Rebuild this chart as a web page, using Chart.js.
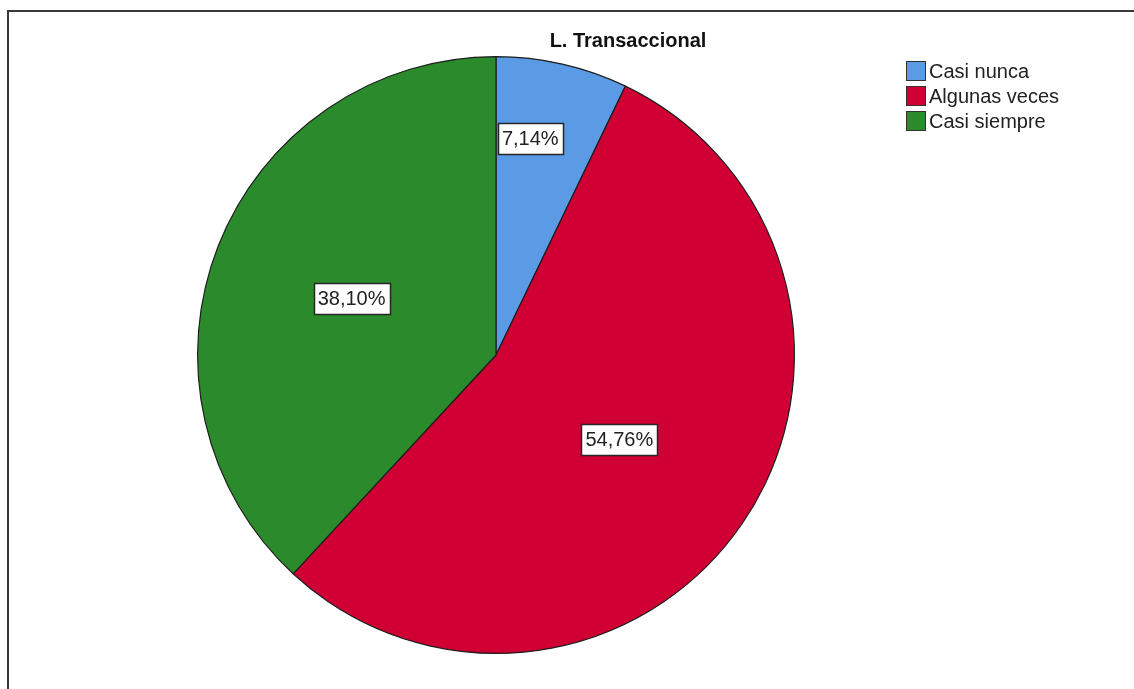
<!DOCTYPE html>
<html>
<head>
<meta charset="utf-8">
<script src="https://cdn.jsdelivr.net/npm/chart.js@4/dist/chart.umd.min.js"></script>
<style>
  html, body { margin: 0; padding: 0; background: #fff; }
  #wrap { position: relative; width: 1134px; height: 689px; overflow: hidden; }
  #frame { position: absolute; left: 7px; top: 10px; width: 1200px; height: 760px;
           border-top: 2px solid #3a3a3a; border-left: 2px solid #3a3a3a; box-sizing: border-box; }
  canvas { position: absolute; left: 0; top: 0; }
</style>
</head>
<body>
<div id="wrap">
  <div id="frame"></div>
  <canvas id="c" width="1134" height="689"></canvas>
</div>
<script>
// Categories and their shares (%)
const categories = ['Casi nunca', 'Algunas veces', 'Casi siempre'];
const percentages = [7.14, 54.76, 38.10];
const sliceColors = ['#5b9be6', '#d10034', '#2b8a2b'];
const chartTitle = 'L. Transaccional';

const FONT = '"Liberation Sans", Arial, sans-serif';

function fmt(v) {
  return v.toFixed(2).replace('.', ',') + '%';
}

// Title, boxed value labels and the legend, painted on top of the pie
const decorations = {
  id: 'decorations',
  afterDatasetsDraw(chart, args, opts) {
    const ctx = chart.ctx;
    const meta = chart.getDatasetMeta(0);
    ctx.save();

    // boxed percentage labels
    ctx.font = '20px ' + FONT;
    ctx.textAlign = 'center';
    ctx.textBaseline = 'middle';
    meta.data.forEach((arc, i) => {
      const p = arc.getProps(['x', 'y', 'startAngle', 'endAngle', 'outerRadius'], true);
      const ang = p.startAngle + (p.endAngle - p.startAngle) * opts.labelSpan[i];
      const r = p.outerRadius * opts.labelRadius[i];
      const x = p.x + Math.cos(ang) * r;
      const y = p.y + Math.sin(ang) * r;
      const text = fmt(chart.data.datasets[0].data[i]);
      const w = Math.round(ctx.measureText(text).width + 8);
      const h = 31;
      const bx = Math.round(x - w / 2) + 0.5;
      const by = Math.round(y - h / 2) + 0.5;
      ctx.fillStyle = '#ffffff';
      ctx.fillRect(bx, by, w, h);
      ctx.strokeStyle = '#262626';
      ctx.lineWidth = 1.5;
      ctx.strokeRect(bx, by, w, h);
      ctx.fillStyle = '#222222';
      ctx.fillText(text, x, y + 1);
    });

    // title
    ctx.font = 'bold 20px ' + FONT;
    ctx.fillStyle = '#111111';
    ctx.textAlign = 'center';
    ctx.textBaseline = 'middle';
    ctx.fillText(chartTitle, 628, 41);

    // legend
    ctx.font = '20px ' + FONT;
    ctx.textAlign = 'left';
    chart.data.labels.forEach((lab, i) => {
      const y = 71 + i * 25;
      ctx.fillStyle = sliceColors[i];
      ctx.fillRect(906.5, y - 9.5, 19, 19);
      ctx.strokeStyle = '#333333';
      ctx.lineWidth = 1;
      ctx.strokeRect(906.5, y - 9.5, 19, 19);
      ctx.fillStyle = '#222222';
      ctx.fillText(lab, 929, y + 1);
    });

    ctx.restore();
  }
};

new Chart(document.getElementById('c'), {
  type: 'pie',
  data: {
    labels: categories,
    datasets: [{
      data: percentages,
      backgroundColor: sliceColors,
      borderColor: '#1e1e1e',
      borderWidth: 1.2
    }]
  },
  options: {
    responsive: false,
    animation: false,
    layout: { padding: { left: 197, right: 339, top: 56, bottom: 35 } },
    plugins: {
      legend: { display: false },
      tooltip: { enabled: false },
      title: { display: false },
      decorations: { labelRadius: [0.735, 0.5, 0.52], labelSpan: [0.35, 0.5, 0.5] }
    }
  },
  plugins: [decorations]
});
</script>
</body>
</html>
